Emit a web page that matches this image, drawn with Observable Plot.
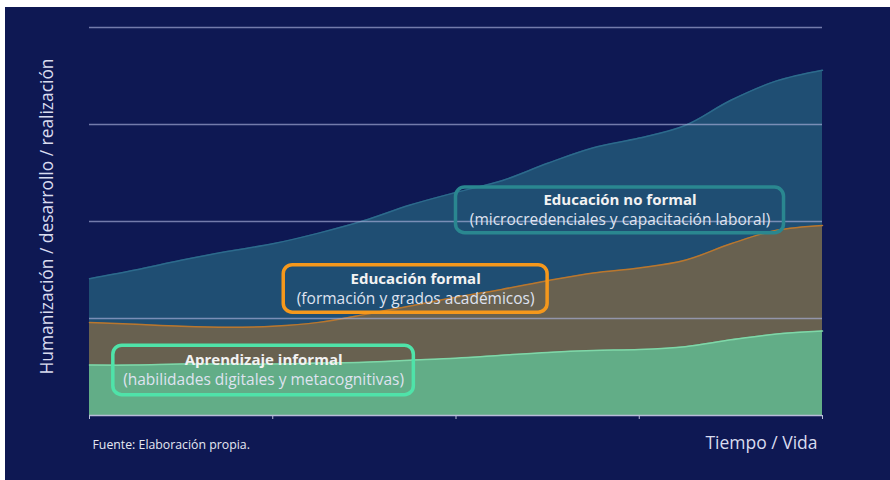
<!DOCTYPE html>
<html>
<head>
<meta charset="utf-8">
<script src="https://cdn.jsdelivr.net/npm/d3@7"></script>
<script src="https://cdn.jsdelivr.net/npm/@observablehq/plot@0.6"></script>
<style>
  html, body { margin: 0; padding: 0; background: #ffffff; }
  #wrap { position: absolute; left: 5px; top: 7px; width: 885px; height: 473px; background: #0e1853; overflow: hidden; }
  svg { font-family: "Open Sans", sans-serif; }
</style>
</head>
<body>
<div id="wrap"></div>
<script>
// Time positions (x) and series top values
const tiempo = [0, 0.25, 0.5, 0.75, 1, 1.25, 1.5, 1.75, 2, 2.25, 2.5, 2.75, 3, 3.25, 3.5, 3.75, 4];
const noFormal = [1.41, 1.50, 1.60, 1.69, 1.77, 1.88, 2.01, 2.17, 2.30, 2.42, 2.60, 2.76, 2.86, 2.99, 3.25, 3.45, 3.56];
const formal = [0.96, 0.94, 0.92, 0.91, 0.92, 0.96, 1.04, 1.13, 1.22, 1.30, 1.39, 1.47, 1.52, 1.60, 1.77, 1.91, 1.96];
const informal = [0.52, 0.52, 0.53, 0.53, 0.53, 0.54, 0.55, 0.57, 0.59, 0.62, 0.65, 0.67, 0.68, 0.71, 0.78, 0.84, 0.87];
const yTicks = [0, 1, 2, 3, 4];
const xTicks = [0, 1, 2, 3, 4];

// Annotation labels (data units)
const boxTitles = ["Educación no formal", "Educación formal", "Aprendizaje informal"];
const boxSubtitles = ["(microcredenciales y capacitación laboral)", "(formación y grados académicos)", "(habilidades digitales y metacognitivas)"];
const boxX1 = [2.00, 1.06, 0.13];
const boxX2 = [3.79, 2.50, 1.77];
const boxY1 = [1.88, 1.06, 0.21];
const boxY2 = [2.35, 1.55, 0.72];
const boxColors = ["#2a8790", "#f5981c", "#4fe3a9"];

const series = (vals) => tiempo.map((t, i) => ({t, v: vals[i]}));
const boxes = boxTitles.map((t, i) => ({
  title: t, sub: boxSubtitles[i], x1: boxX1[i], x2: boxX2[i], y1: boxY1[i], y2: boxY2[i],
  xc: (boxX1[i] + boxX2[i]) / 2, yc: (boxY1[i] + boxY2[i]) / 2, color: boxColors[i]
}));

const crv = "catmull-rom";
const chart = Plot.plot({
  width: 885,
  height: 473,
  marginLeft: 84,
  marginRight: 68,
  marginTop: 20,
  marginBottom: 65,
  style: {background: "transparent", color: "#d9dcef", fontFamily: "Open Sans, sans-serif"},
  x: {domain: [0, 4], type: "linear"},
  y: {domain: [0, 4], type: "linear", axis: null},
  marks: [
    Plot.areaY(series(noFormal), {x: "t", y1: 0, y2: "v", curve: crv, fill: "#1f4e73"}),
    Plot.lineY(series(noFormal), {x: "t", y: "v", curve: crv, stroke: "#2c6a8c", strokeWidth: 1.5}),
    Plot.areaY(series(formal), {x: "t", y1: 0, y2: "v", curve: crv, fill: "#686150"}),
    Plot.lineY(series(formal), {x: "t", y: "v", curve: crv, stroke: "#b9772e", strokeWidth: 1.5}),
    Plot.areaY(series(informal), {x: "t", y1: 0, y2: "v", curve: crv, fill: "#62ad87"}),
    Plot.lineY(series(informal), {x: "t", y: "v", curve: crv, stroke: "#7fd7a8", strokeWidth: 1.5}),
    Plot.ruleY(yTicks.filter(d => d > 0), {stroke: "#aab0da", strokeWidth: 1.5, strokeOpacity: 0.65}),
    Plot.ruleY([0], {stroke: "#b8bcd8", strokeWidth: 1.5}),
    Plot.axisX({ticks: xTicks, tickSize: 4, tickFormat: () => "", label: null, stroke: "#b8bcd8"}),
    Plot.rect(boxes, {x1: "x1", x2: "x2", y1: "y1", y2: "y2", stroke: "color", fill: "none", strokeWidth: 3.5, rx: 9}),
    Plot.text(boxes, {x: "xc", y: "yc", text: "title", dy: -10, fill: "#f2f2f2", fontWeight: "bold", fontSize: 15}),
    Plot.text(boxes, {x: "xc", y: "yc", text: "sub", dy: 10, fill: "#dfe3f0", fontSize: 15.5}),
    Plot.text(["Humanización / desarrollo / realización"], {frameAnchor: "left", textAnchor: "middle", rotate: -90, dx: -42, dy: -5, fill: "#d9dcef", fontSize: 17.4}),
    Plot.text(["Tiempo / Vida"], {frameAnchor: "bottom-right", textAnchor: "end", dx: -5, dy: 33, fill: "#d9dcef", fontSize: 17.5}),
    Plot.text(["Fuente: Elaboración propia."], {frameAnchor: "bottom-left", textAnchor: "start", dx: 3, dy: 33, fill: "#e6e8f2", fontSize: 12.3})
  ]
});
document.getElementById("wrap").appendChild(chart);
</script>
</body>
</html>
